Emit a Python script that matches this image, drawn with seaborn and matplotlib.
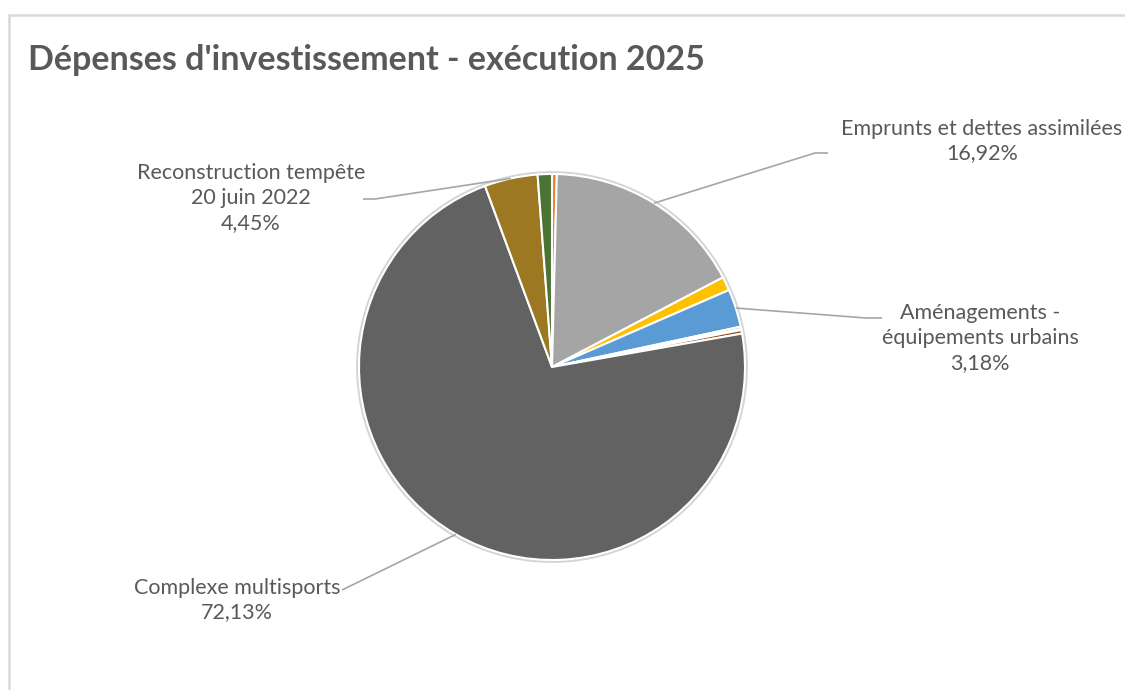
import matplotlib
matplotlib.use("Agg")
import matplotlib.pyplot as plt
import seaborn as sns
from matplotlib.patches import Rectangle, Circle
import numpy as np

# slices in drawing order (clockwise from 12 o'clock)
categories = ["Autres 1", "Emprunts et dettes assimilées", "Autres 2",
              "Aménagements -\néquipements urbains", "Autres 3", "Autres 4",
              "Autres 5", "Complexe multisports",
              "Reconstruction tempête\n20 juin 2022", "Autres 6"]
values = [0.40, 16.92, 1.15, 3.18, 0.20, 0.08, 0.30, 72.13, 4.45, 1.19]
labels_pct = ["", "16,92%", "", "3,18%", "", "", "", "72,13%", "4,45%", ""]
colors = ["#ED7D31", "#A5A5A5", "#FFC000", "#5B9BD5", "#70AD47",
          "#264478", "#9E480E", "#626262", "#9C7823", "#4A7334"]

sns.set_theme(style="white")
plt.rcParams['font.family'] = ['Lato', 'DejaVu Sans']

W, H = 1125, 690
fig = plt.figure(figsize=(W / 100, H / 100), dpi=100)
ax = fig.add_axes([0, 0, 1, 1])

# chart frame
fig.patches.append(Rectangle((9 / W, -0.05), 1.1, (H - 15) / H + 0.05,
                             transform=fig.transFigure, fill=False,
                             edgecolor="#d9d9d9", linewidth=1.8))

cx, cy, r = 552, H - 367, 193
ax.add_patch(Circle((cx, cy), r + 1.5, facecolor="none", edgecolor="#d4d4d4",
                    linewidth=2))
wedges, _ = ax.pie(values, colors=colors, startangle=90, counterclock=False,
                   center=(cx, cy), radius=r, frame=True,
                   wedgeprops=dict(edgecolor="white", linewidth=1.5))
ax.set_xlim(0, W)
ax.set_ylim(0, H)
ax.axis("off")

txt = "#595959"
ax.text(28, H - 60, "Dépenses d'investissement - exécution 2025", fontsize=24.5,
        fontweight="bold", color=txt, ha="left", va="center")

# label positions (centre of text block) and leader line elbows
label_layout = {
    1: dict(xy=(982, H - 141), elbow=[(815, H - 153), (828, H - 153)]),
    3: dict(xy=(980, H - 338), elbow=[(866, H - 318), (882, H - 318)]),
    7: dict(xy=(237, H - 600), elbow=[(342, H - 590)]),
    8: dict(xy=(251, H - 198), elbow=[(375, H - 199), (363, H - 199)]),
}

for i, lay in label_layout.items():
    w = wedges[i]
    mid = np.deg2rad((w.theta1 + w.theta2) / 2)
    x0, y0 = cx + r * np.cos(mid), cy + r * np.sin(mid)
    pts = [(x0, y0)] + lay["elbow"]
    ax.plot([p[0] for p in pts], [p[1] for p in pts], color="#a6a6a6",
            linewidth=1.2, solid_capstyle="butt")
    ax.text(lay["xy"][0], lay["xy"][1], categories[i] + "\n" + labels_pct[i],
            fontsize=15.5, color=txt, ha="center", va="center",
            linespacing=1.3)

fig.savefig("out.png", dpi=100, facecolor="white")
